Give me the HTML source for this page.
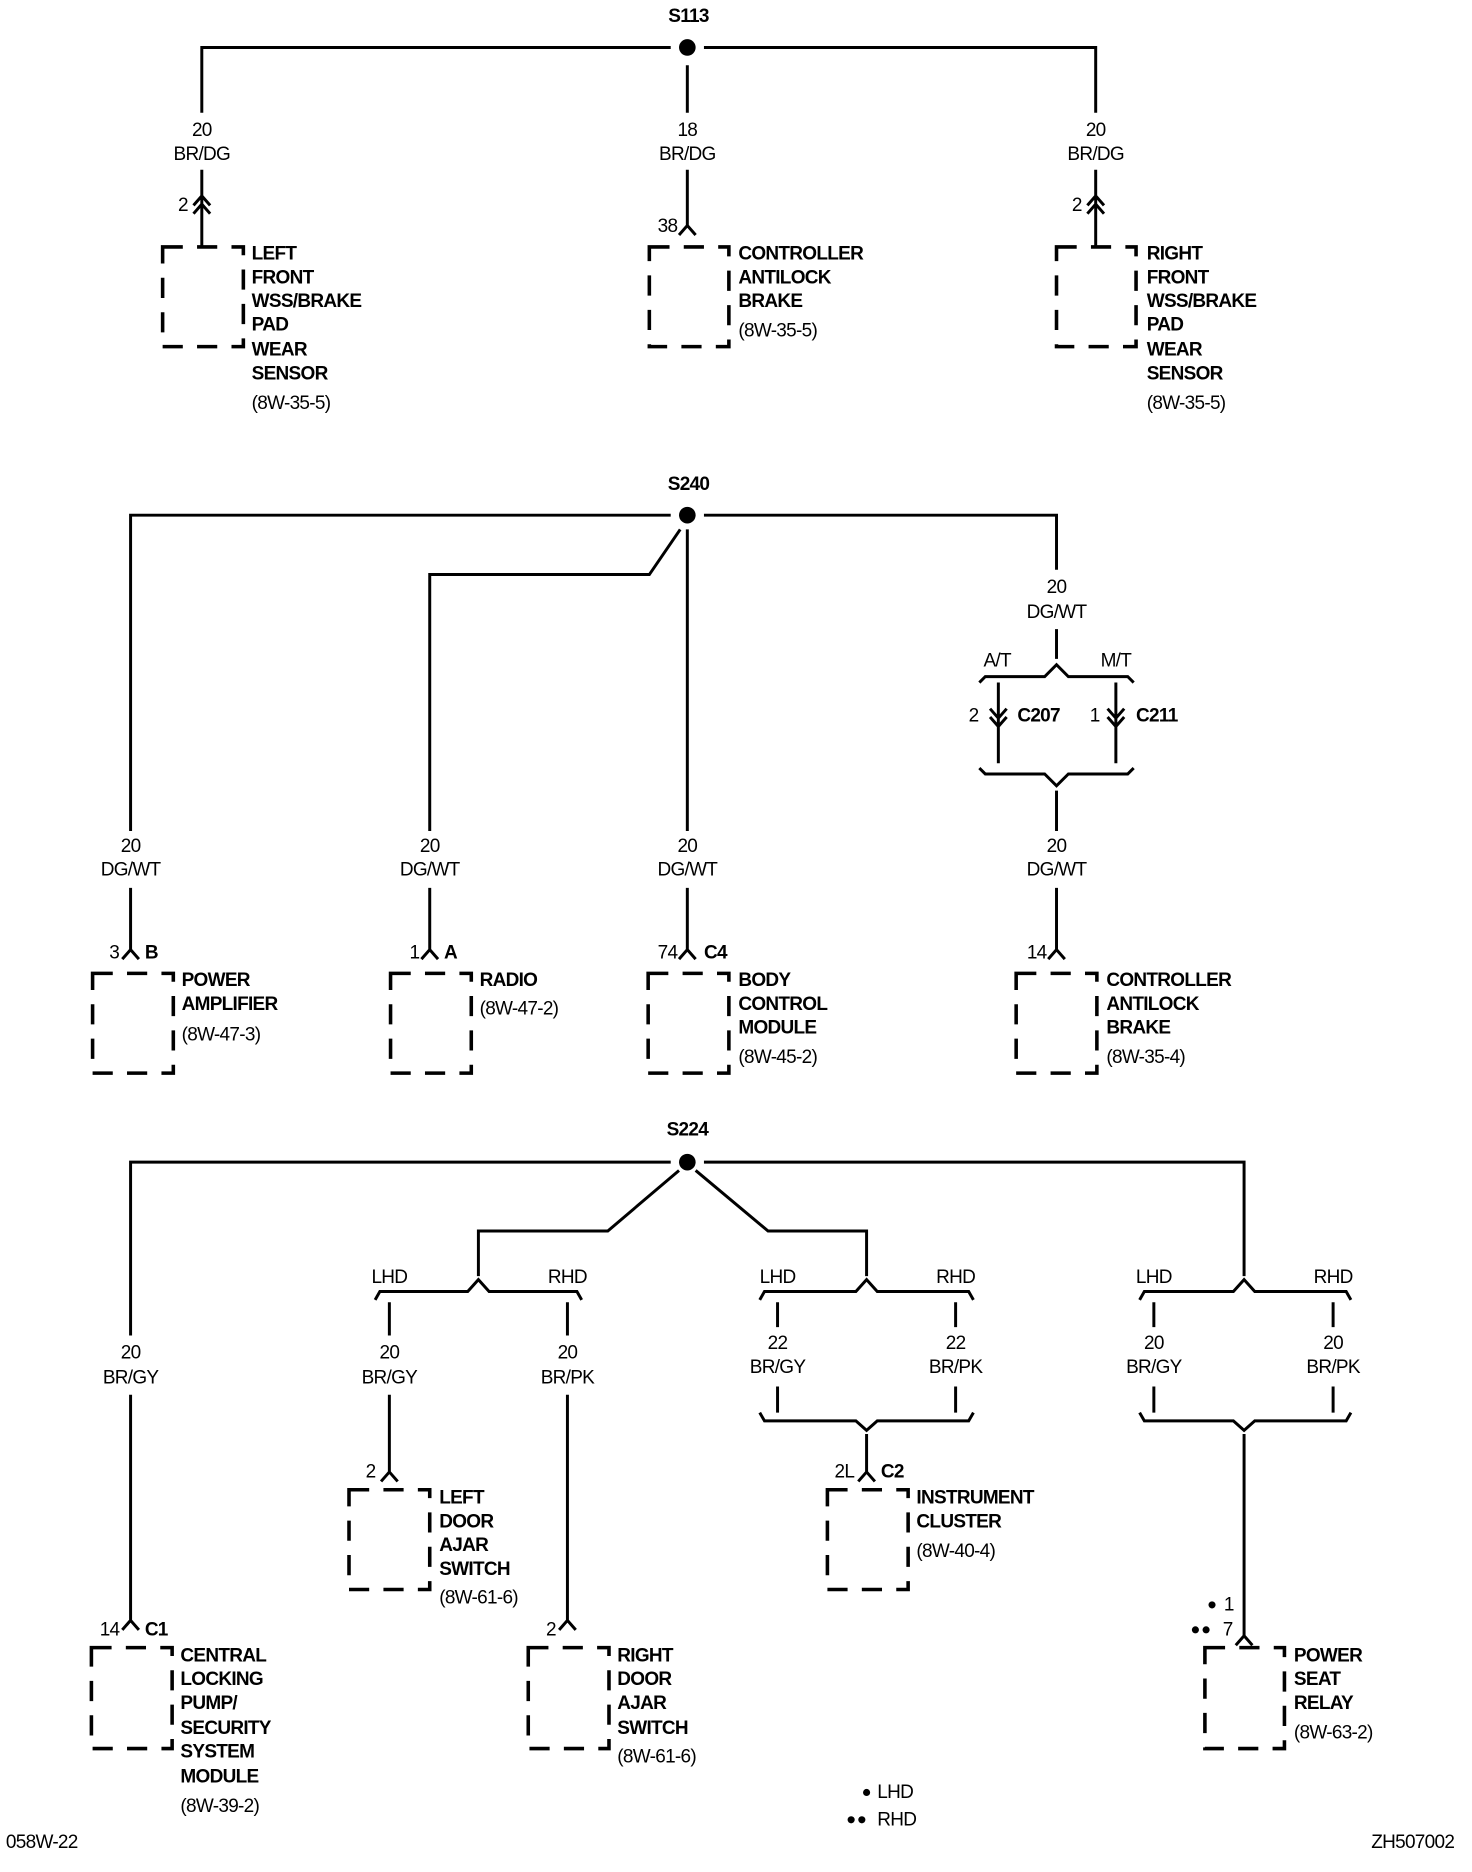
<!DOCTYPE html>
<html><head><meta charset="utf-8"><style>
html,body{margin:0;padding:0;background:#fff}
svg{display:block}
text{font-family:"Liberation Sans",sans-serif;font-size:16px;letter-spacing:-0.6px;fill:#000;dominant-baseline:central}
.b{font-weight:bold}
.w{stroke:#000;stroke-width:2.5;fill:none}
.bx{stroke:#000;stroke-width:3;fill:none;stroke-dasharray:17 12}
</style></head><body>
<svg width="1472" height="1872" viewBox="0 0 1240 1577" preserveAspectRatio="none" xmlns="http://www.w3.org/2000/svg">
<!-- ===== S113 ===== -->
<text x="580" y="14" class="b" text-anchor="middle">S113</text>
<circle cx="579" cy="40" r="7"/>
<path class="w" d="M170 95V40H565M593 40H923V95M579 55V95"/>
<g text-anchor="middle">
<text x="170" y="110">20</text><text x="170" y="130">BR/DG</text>
<text x="579" y="110">18</text><text x="579" y="130">BR/DG</text>
<text x="923" y="110">20</text><text x="923" y="130">BR/DG</text>
</g>
<path class="w" d="M170 143V208M163 173L170 165L177 173M163 180L170 172L177 180"/>
<path class="w" d="M923 143V208M916 173L923 165L930 173M916 180L923 172L930 180"/>
<path class="w" d="M579 143V190M572 198L579 190L586 198"/>
<text x="150" y="173">2</text><text x="903" y="173">2</text><text x="554" y="191">38</text>
<rect class="bx" x="137" y="208" width="68" height="84"/>
<rect class="bx" x="547" y="208" width="67" height="84"/>
<rect class="bx" x="890" y="208" width="67" height="84"/>
<g class="b">
<text x="212" y="214">LEFT</text><text x="212" y="234">FRONT</text><text x="212" y="254">WSS/BRAKE</text><text x="212" y="274">PAD</text><text x="212" y="295">WEAR</text><text x="212" y="315">SENSOR</text>
<text x="622" y="214">CONTROLLER</text><text x="622" y="234">ANTILOCK</text><text x="622" y="254">BRAKE</text>
<text x="966" y="214">RIGHT</text><text x="966" y="234">FRONT</text><text x="966" y="254">WSS/BRAKE</text><text x="966" y="274">PAD</text><text x="966" y="295">WEAR</text><text x="966" y="315">SENSOR</text>
</g>
<text x="212" y="340">(8W-35-5)</text><text x="622" y="279">(8W-35-5)</text><text x="966" y="340">(8W-35-5)</text>

<!-- ===== S240 ===== -->
<text x="580" y="408" class="b" text-anchor="middle">S240</text>
<circle cx="579" cy="434" r="7"/>
<path class="w" d="M110 700V434H565M593 434H890V480M579 446V700M573 446L547 484H362V700"/>
<g text-anchor="middle">
<text x="890" y="495">20</text><text x="890" y="516">DG/WT</text>
<text x="110" y="713">20</text><text x="110" y="733">DG/WT</text>
<text x="362" y="713">20</text><text x="362" y="733">DG/WT</text>
<text x="579" y="713">20</text><text x="579" y="733">DG/WT</text>
<text x="890" y="713">20</text><text x="890" y="733">DG/WT</text>
<text x="840" y="557">A/T</text><text x="940" y="557">M/T</text>
</g>
<path class="w" d="M890 530V555M825 575L830 570H880L890 560L900 570H950L955 575"/>
<path class="w" d="M841 575V643M834 597L841 605L848 597M834 604L841 612L848 604"/>
<path class="w" d="M940 575V643M933 597L940 605L947 597M933 604L940 612L947 604"/>
<text x="816" y="603">2</text><text x="857" y="603" class="b">C207</text>
<text x="918" y="603">1</text><text x="957" y="603" class="b">C211</text>
<path class="w" d="M825 647L830 652H880L890 662L900 652H950L955 647M890 666V700"/>
<path class="w" d="M110 748V800M103 808L110 800L117 808M362 748V800M355 808L362 800L369 808M579 748V800M572 808L579 800L586 808M890 748V800M883 808L890 800L897 808"/>
<text x="92" y="803">3</text><text x="122" y="803" class="b">B</text>
<text x="345" y="803">1</text><text x="374" y="803" class="b">A</text>
<text x="554" y="803">74</text><text x="593" y="803" class="b">C4</text>
<text x="865" y="803">14</text>
<rect class="bx" x="78" y="820" width="68" height="84"/>
<rect class="bx" x="329" y="820" width="68" height="84"/>
<rect class="bx" x="546" y="820" width="68" height="84"/>
<rect class="bx" x="856" y="820" width="68" height="84"/>
<g class="b">
<text x="153" y="826">POWER</text><text x="153" y="846">AMPLIFIER</text>
<text x="404" y="826">RADIO</text>
<text x="622" y="826">BODY</text><text x="622" y="846">CONTROL</text><text x="622" y="866">MODULE</text>
<text x="932" y="826">CONTROLLER</text><text x="932" y="846">ANTILOCK</text><text x="932" y="866">BRAKE</text>
</g>
<text x="153" y="872">(8W-47-3)</text><text x="404" y="850">(8W-47-2)</text><text x="622" y="891">(8W-45-2)</text><text x="932" y="891">(8W-35-4)</text>

<!-- ===== S224 ===== -->
<text x="579" y="952" class="b" text-anchor="middle">S224</text>
<circle cx="579" cy="979" r="7"/>
<path class="w" d="M110 1125V979H565M593 979H1048V1075M572 986L512 1037H403V1075M586 986L647 1037H730V1075"/>
<path class="w" d="M316 1095L320 1088H394L403 1078L412 1088H486L490 1095"/>
<path class="w" d="M640 1095L644 1088H721L730 1078L739 1088H816L820 1095"/>
<path class="w" d="M960 1095L964 1088H1039L1048 1078L1057 1088H1134L1138 1095"/>
<g text-anchor="middle">
<text x="328" y="1076">LHD</text><text x="478" y="1076">RHD</text>
<text x="655" y="1076">LHD</text><text x="805" y="1076">RHD</text>
<text x="972" y="1076">LHD</text><text x="1123" y="1076">RHD</text>
<text x="110" y="1140">20</text><text x="110" y="1161">BR/GY</text>
<text x="328" y="1140">20</text><text x="328" y="1161">BR/GY</text>
<text x="478" y="1140">20</text><text x="478" y="1161">BR/PK</text>
<text x="655" y="1132">22</text><text x="655" y="1152">BR/GY</text>
<text x="805" y="1132">22</text><text x="805" y="1152">BR/PK</text>
<text x="972" y="1132">20</text><text x="972" y="1152">BR/GY</text>
<text x="1123" y="1132">20</text><text x="1123" y="1152">BR/PK</text>
</g>
<path class="w" d="M328 1097V1125M478 1097V1125M655 1097V1118M805 1097V1118M972 1097V1118M1123 1097V1118"/>
<path class="w" d="M655 1168V1190M805 1168V1190M972 1168V1190M1123 1168V1190"/>
<path class="w" d="M640 1190L644 1197H721L730 1205L739 1197H816L820 1190"/>
<path class="w" d="M960 1190L964 1197H1039L1048 1205L1057 1197H1134L1138 1190"/>
<path class="w" d="M110 1175V1365M103 1373L110 1365L117 1373"/>
<path class="w" d="M328 1175V1240M321 1248L328 1240L335 1248"/>
<path class="w" d="M478 1175V1365M471 1373L478 1365L485 1373"/>
<path class="w" d="M730 1208V1240M723 1248L730 1240L737 1248"/>
<path class="w" d="M1048 1208V1378M1041 1386L1048 1378L1055 1386"/>
<text x="84" y="1373">14</text><text x="122" y="1373" class="b">C1</text>
<text x="308" y="1240">2</text>
<text x="460" y="1373">2</text>
<text x="703" y="1240">2L</text><text x="742" y="1240" class="b">C2</text>
<circle cx="1021" cy="1352" r="3"/><text x="1031" y="1352">1</text>
<circle cx="1007" cy="1373" r="3"/><circle cx="1016" cy="1373" r="3"/><text x="1030" y="1373">7</text>
<rect class="bx" x="77" y="1388" width="68" height="85"/>
<rect class="bx" x="294" y="1255" width="68" height="84"/>
<rect class="bx" x="445" y="1388" width="68" height="85"/>
<rect class="bx" x="697" y="1255" width="68" height="84"/>
<rect class="bx" x="1015" y="1388" width="67" height="85"/>
<g class="b">
<text x="152" y="1395">CENTRAL</text><text x="152" y="1415">LOCKING</text><text x="152" y="1435">PUMP/</text><text x="152" y="1456">SECURITY</text><text x="152" y="1476">SYSTEM</text><text x="152" y="1497">MODULE</text>
<text x="370" y="1262">LEFT</text><text x="370" y="1282">DOOR</text><text x="370" y="1302">AJAR</text><text x="370" y="1322">SWITCH</text>
<text x="520" y="1395">RIGHT</text><text x="520" y="1415">DOOR</text><text x="520" y="1435">AJAR</text><text x="520" y="1456">SWITCH</text>
<text x="772" y="1262">INSTRUMENT</text><text x="772" y="1282">CLUSTER</text>
<text x="1090" y="1395">POWER</text><text x="1090" y="1415">SEAT</text><text x="1090" y="1435">RELAY</text>
</g>
<text x="152" y="1522">(8W-39-2)</text><text x="370" y="1346">(8W-61-6)</text><text x="520" y="1480">(8W-61-6)</text><text x="772" y="1307">(8W-40-4)</text><text x="1090" y="1460">(8W-63-2)</text>
<circle cx="730" cy="1510" r="3"/><text x="739" y="1510">LHD</text>
<circle cx="717" cy="1533" r="3"/><circle cx="726" cy="1533" r="3"/><text x="739" y="1533">RHD</text>
<text x="5" y="1552">058W-22</text>
<text x="1225" y="1552" text-anchor="end">ZH507002</text>
</svg>
</body></html>
